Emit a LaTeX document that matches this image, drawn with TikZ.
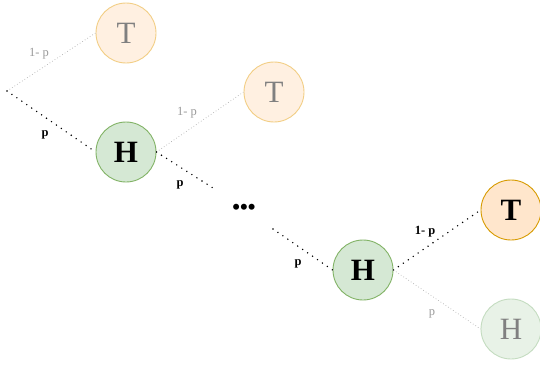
\documentclass[tikz,border=0pt]{standalone}
\usepackage{fontspec}
\setmainfont{Liberation Serif}
\begin{document}
\begin{tikzpicture}[x=1pt,y=-1pt,
  coin/.style={circle,minimum size=60pt,inner sep=0pt,line width=0.9pt,font=\fontsize{31}{31}\selectfont},
  tails/.style={coin,draw=tailsstroke,fill=tailsfill,font=\fontsize{31}{31}\selectfont\bfseries},
  heads/.style={coin,draw=headsstroke,fill=headsfill,font=\fontsize{31}{31}\selectfont\bfseries},
  ftails/.style={coin,draw=ftailsstroke,fill=ftailsfill,text=fadetext},
  fheads/.style={coin,draw=fheadsstroke,fill=fheadsfill,text=fadetext},
  strong/.style={black,line width=1.6pt,dash pattern=on 0pt off 6pt,line cap=round},
  faint/.style={fadeline,line width=0.7pt,dash pattern=on 0.7pt off 2.3pt},
  blab/.style={font=\fontsize{12.5}{13}\selectfont\bfseries,inner sep=1pt},
  glab/.style={font=\fontsize{12.5}{13}\selectfont,text=fadelabel,inner sep=1pt}]
\definecolor{tailsfill}{HTML}{FFE6CC}
\definecolor{tailsstroke}{HTML}{D79B00}
\definecolor{headsfill}{HTML}{D5E8D4}
\definecolor{headsstroke}{HTML}{82B366}
\definecolor{ftailsfill}{HTML}{FFF0E1}
\definecolor{ftailsstroke}{HTML}{F2CE85}
\definecolor{fheadsfill}{HTML}{E8F2E7}
\definecolor{fheadsstroke}{HTML}{C4DCC0}
\definecolor{fadetext}{HTML}{808080}
\definecolor{fadelabel}{HTML}{999999}
\definecolor{fadeline}{HTML}{B0B0B0}
\useasboundingbox (0,0) rectangle (540,364);
\coordinate (root) at (7,91);
\node[ftails] (t1) at (126,33) {T};
\node[ftails] (t2) at (274,92) {T};
\node[heads] (h1) at (126,152) {H};
\node[heads] (h2) at (363,270) {H};
\node[tails] (t3) at (511,210) {T};
\node[fheads] (h3) at (511,329) {H};
\coordinate (gapa) at (213,188);
\coordinate (gapb) at (273,229);
\node[font=\fontsize{22}{22}\selectfont\bfseries,inner sep=0pt] (dots) at (244,209) {•••};
\draw[faint] (root) -- (t1.west);
\draw[strong] (root) -- (h1.west);
\draw[faint] (h1.east) -- (t2.west);
\draw[strong] (h1.east) -- (gapa);
\draw[strong] (gapb) -- (h2.west);
\draw[strong] (h2.east) -- (t3.west);
\draw[faint] (h2.east) -- (h3.west);
\node[glab] (l1) at (39,54) {1- p};
\node[blab] (l2) at (45,135) {p};
\node[glab] (l3) at (187,113) {1- p};
\node[blab] (l4) at (180,185) {p};
\node[blab] (l5) at (298,264) {p};
\node[blab] (l6) at (425,232) {1- p};
\node[glab] (l7) at (432,314) {p};
\end{tikzpicture}
\end{document}
